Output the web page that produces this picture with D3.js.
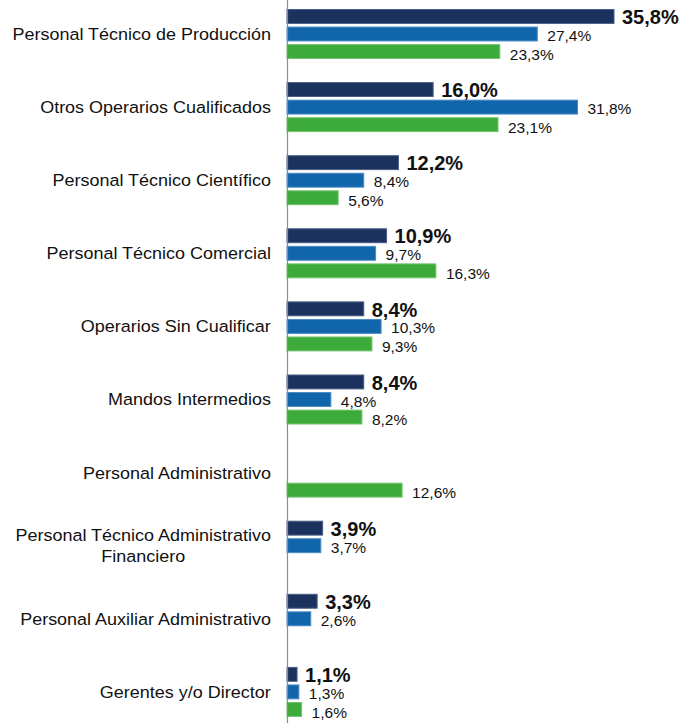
<!DOCTYPE html>
<html><head><meta charset="utf-8">
<script src="https://cdn.jsdelivr.net/npm/d3@7"></script>
<style>body{margin:0;background:#fff}svg{display:block}</style>
</head><body>
<script>
const categories = [
  ["Personal Técnico de Producción"],
  ["Otros Operarios Cualificados"],
  ["Personal Técnico Científico"],
  ["Personal Técnico Comercial"],
  ["Operarios Sin Cualificar"],
  ["Mandos Intermedios"],
  ["Personal Administrativo"],
  ["Personal Técnico Administrativo", "Financiero"],
  ["Personal Auxiliar Administrativo"],
  ["Gerentes y/o Director"]
];
const seriesNames = ["Serie 1", "Serie 2", "Serie 3"];
const series1 = [35.8, 16.0, 12.2, 10.9, 8.4, 8.4, null, 3.9, 3.3, 1.1];
const series2 = [27.4, 31.8, 8.4, 9.7, 10.3, 4.8, null, 3.7, 2.6, 1.3];
const series3 = [23.3, 23.1, 5.6, 16.3, 9.3, 8.2, 12.6, null, null, 1.6];
const colors = ["#1c325e", "#1065ab", "#3dab3a"];
const strokes = ["#4a5d85", "#4a8ac4", "#74c471"];

const W = 680, H = 723;
const svg = d3.select("body").append("svg").attr("width", W).attr("height", H);

const allSeries = [series1, series2, series3];
const x = d3.scaleLinear().domain([0, 40]).range([287, 287 + 40 * 9.134]);
const y = d3.scaleBand().domain(d3.range(categories.length)).range([-14.1, 740]).paddingInner(0.316).paddingOuter(0.316);
const yi = d3.scaleBand().domain(d3.range(3)).range([0, y.bandwidth()]).paddingInner(0.15);

const fmt = v => d3.format(".1f")(v).replace(".", ",") + "%";
const FONT = "Liberation Sans, Arial, sans-serif";
const SX = 1.09;
const labelShift = [0.5, 1.5, 2.5];

const groups = svg.selectAll("g.grp").data(categories).join("g")
  .attr("class", "grp").attr("transform", (d, i) => `translate(0,${y(i)})`);

groups.each(function(cat, i) {
  const g = d3.select(this);
  allSeries.forEach((s, k) => {
    const v = s[i];
    if (v == null) return;
    g.append("rect")
      .attr("x", x(0)).attr("y", yi(k) + 0.5)
      .attr("width", x(v) - x(0)).attr("height", yi.bandwidth() - 1)
      .attr("fill", colors[k]).attr("stroke", strokes[k]).attr("stroke-width", 1);
    g.append("text")
      .attr("x", x(v) + (k === 0 ? 8 : 10))
      .attr("y", yi(k) + yi.bandwidth() / 2 + labelShift[k])
      .attr("dy", "0.36em")
      .attr("font-family", FONT)
      .attr("font-size", k === 0 ? 20 : 15.5)
      .attr("font-weight", k === 0 ? "bold" : "normal")
      .attr("fill", "#111")
      .text(fmt(v));
  });
  const cy = y.bandwidth() / 2;
  const lh = 21;
  const t = g.append("text")
    .attr("text-anchor", "middle")
    .attr("font-family", FONT)
    .attr("font-size", 16.5)
    .attr("fill", "#111");
  cat.forEach((line, j) => {
    t.append("tspan")
      .attr("x", 0)
      .attr("y", cy + (j - (cat.length - 1) / 2) * lh)
      .attr("dy", "0.36em")
      .text(line);
  });
  const bb = t.node().getBBox();
  t.attr("transform", `translate(${271 - bb.width * SX / 2},0) scale(${SX},1)`);
});

svg.append("line").attr("x1", 287.5).attr("x2", 287.5).attr("y1", 0).attr("y2", H)
  .attr("stroke", "#8c8c8c").attr("stroke-width", 1.2);
</script>
</body></html>
